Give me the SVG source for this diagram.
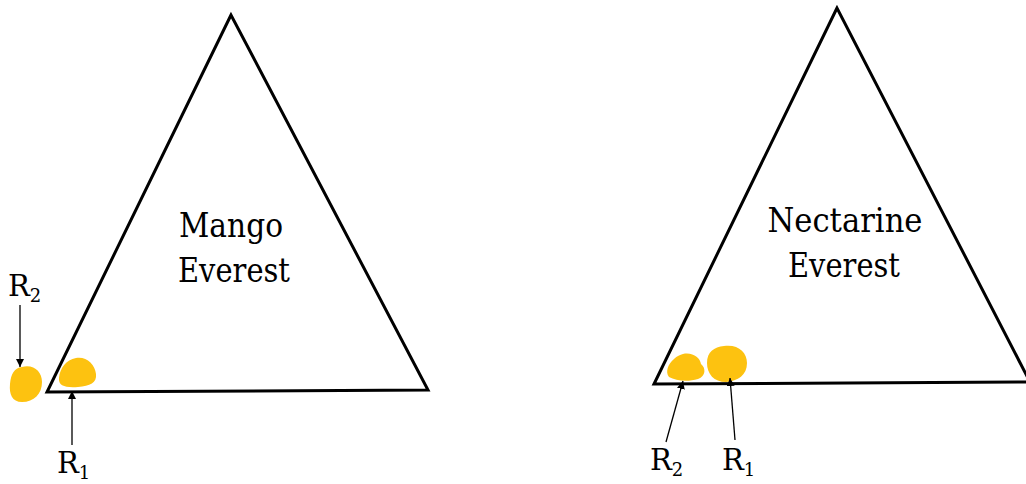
<svg xmlns="http://www.w3.org/2000/svg" width="1026" height="484" viewBox="0 0 1026 484">
<style>
.tri{fill:none;stroke:#000;stroke-width:3;stroke-linejoin:miter}
.lbl{font-family:'DejaVu Serif',serif;font-size:34px;fill:#000;text-anchor:middle}
.r{font-family:'DejaVu Serif',serif;font-size:29px;fill:#000}
.sub{font-size:18px}
.blob{fill:#FDC210}
.arr{stroke:#000;stroke-width:1.3;fill:none;marker-end:url(#ah)}
</style>
<defs>
<marker id="ah" viewBox="0 0 10 10" refX="10" refY="5" markerWidth="8" markerHeight="8" markerUnits="userSpaceOnUse" orient="auto">
<path d="M0,0 L10,5 L0,10 z" fill="#000"/>
</marker>
</defs>
<rect width="1026" height="484" fill="#fff"/>
<g id="mango">
<path class="tri" d="M231,15 L47,392 L428,390 Z"/>
<text class="lbl" x="231" y="237" textLength="104" lengthAdjust="spacingAndGlyphs">Mango</text>
<text class="lbl" x="234" y="282" textLength="112" lengthAdjust="spacingAndGlyphs">Everest</text>
</g>
<g id="nectarine">
<path class="tri" d="M837,8 L654,384 L1030,382 Z"/>
<text class="lbl" x="845" y="232" textLength="155" lengthAdjust="spacingAndGlyphs">Nectarine</text>
<text class="lbl" x="844" y="277" textLength="112" lengthAdjust="spacingAndGlyphs">Everest</text>
</g>
<g id="blobs">
<path class="blob" d="M22,367 C34,364 42,372 42,382 C42,394 34,402 22,402 C12,402 9,394 10,384 C11,374 14,368 22,367 Z"/>
<path class="blob" d="M76,358 C86,356 95,364 96,374 C97,383 90,386 78,387 C66,388 58,386 59,378 C60,368 66,360 76,358 Z"/>
<path class="blob" d="M683,354 C693,352 700,358 701,364 C706,368 706,376 698,379 C688,382 676,381 669,377 C665,372 668,364 674,359 C677,356 680,355 683,354 Z"/>
<path class="blob" d="M724,346 C738,344 747,352 747,363 C747,375 738,381 726,382 C714,382 707,374 707,363 C707,352 714,347 724,346 Z"/>
</g>
<g id="connectors">
<line class="arr" x1="20" y1="305" x2="20" y2="367"/>
<line class="arr" x1="72" y1="445" x2="72" y2="391"/>
<line class="arr" x1="666" y1="442" x2="683" y2="381"/>
<line class="arr" x1="735" y1="440" x2="730" y2="378"/>
</g>
<g id="labels">
<text class="r" x="8" y="296">R<tspan class="sub" dy="6">2</tspan></text>
<text class="r" x="57" y="473">R<tspan class="sub" dy="6">1</tspan></text>
<text class="r" x="650" y="470">R<tspan class="sub" dy="6">2</tspan></text>
<text class="r" x="722" y="470">R<tspan class="sub" dy="6">1</tspan></text>
</g>
</svg>
